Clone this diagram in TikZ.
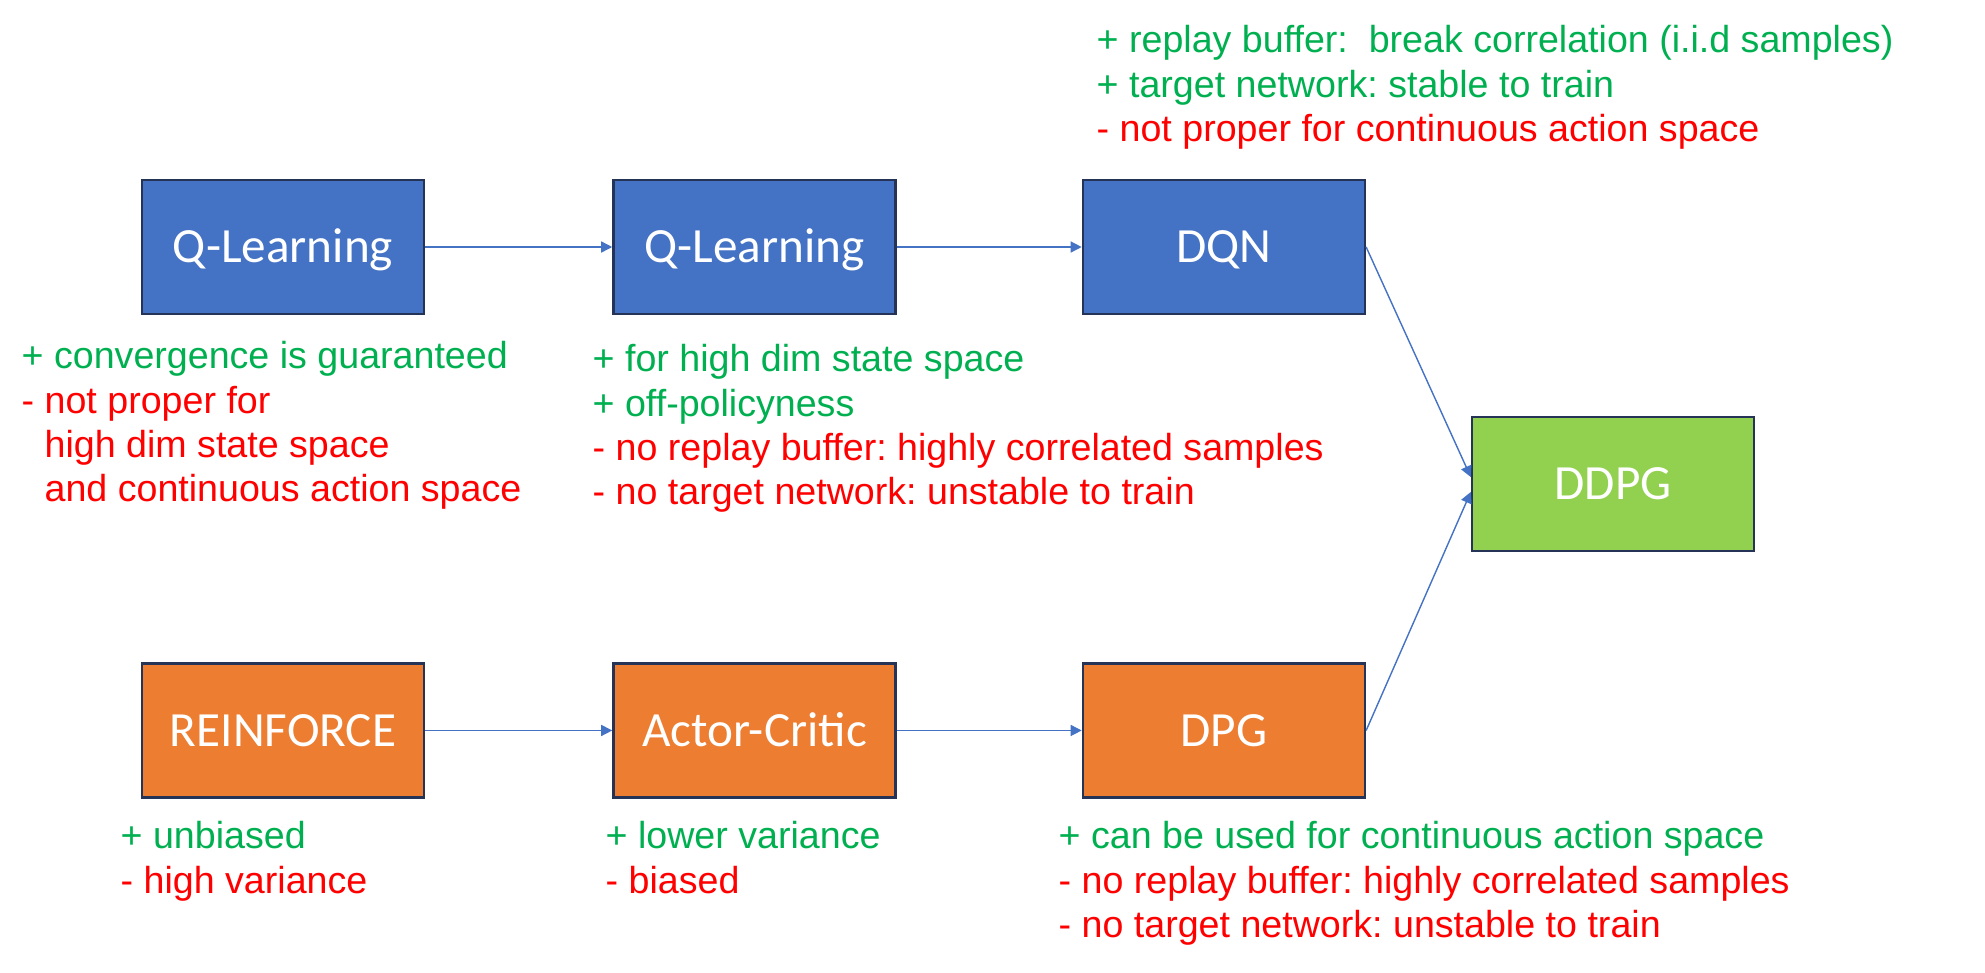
\documentclass[tikz,border=0pt]{standalone}
\usepackage{fontspec}
\setmainfont{Liberation Sans}
\newfontfamily\labelfont{Carlito}
\usetikzlibrary{arrows.meta, positioning}
\definecolor{rlblue}{HTML}{4472C4}
\definecolor{rlorange}{HTML}{ED7D31}
\definecolor{rlgreen}{HTML}{92D050}
\definecolor{rledge}{HTML}{243356}
\definecolor{pro}{HTML}{00B050}
\definecolor{con}{HTML}{FF0000}
\tikzset{
  algo/.style={rectangle, draw=rledge, line width=0.7pt, minimum width=2.82cm, minimum height=1.34cm,
    inner sep=0pt, text height=9pt, text depth=0pt, text=white, font=\labelfont\fontsize{14}{16}\selectfont},
  note/.style={anchor=north west, inner sep=0pt, align=left, font=\fontsize{10.7}{12.6}\selectfont},
  arr/.style={-{Triangle[length=1.1mm, width=1.1mm]}, line width=0.4pt, rlblue},
}
\frenchspacing

\begin{document}
\begin{tikzpicture}
    \useasboundingbox (0,0) rectangle (19.85,-9.72);

    % value-based row
    \node[algo, fill=rlblue] (ql) at (2.83,-2.47) {Q-Learning};
    \node[algo, fill=rlblue, right=1.87cm of ql] (dql) {Q-Learning};
    \node[algo, fill=rlblue, right=1.85cm of dql] (dqn) {DQN};

    % policy-gradient row
    \node[algo, fill=rlorange, below=3.47cm of ql] (rf) {REINFORCE};
    \node[algo, fill=rlorange, right=1.87cm of rf] (ac) {Actor-Critic};
    \node[algo, fill=rlorange, right=1.85cm of ac] (dpg) {DPG};

    \node[algo, fill=rlgreen] (ddpg) at (16.13,-4.84) {DDPG};

    % pros and cons
    \node[note] (qlnote) at (0.21,-3.41) {\textcolor{pro}{+ convergence is guaranteed}\\
      \textcolor{con}{- not proper for}\\
      \textcolor{con}{\hphantom{- }high dim state space}\\
      \textcolor{con}{\hphantom{- }and continuous action space}};
    \node[note] (dqlnote) at (5.92,-3.44) {\textcolor{pro}{+ for high dim state space}\\
      \textcolor{pro}{+ off-policyness}\\
      \textcolor{con}{- no replay buffer: highly correlated samples}\\
      \textcolor{con}{- no target network: unstable to train}};
    \node[note] (dqnnote) at (10.96,-0.25) {\textcolor{pro}{+ replay buffer:\ \ break correlation (i.i.d samples)}\\
      \textcolor{pro}{+ target network: stable to train}\\
      \textcolor{con}{- not proper for continuous action space}};
    \node[note] (rfnote) at (1.20,-8.21) {\textcolor{pro}{+ unbiased}\\
      \textcolor{con}{- high variance}};
    \node[note] (acnote) at (6.05,-8.21) {\textcolor{pro}{+ lower variance}\\
      \textcolor{con}{- biased}};
    \node[note] (dpgnote) at (10.58,-8.21) {\textcolor{pro}{+ can be used for continuous action space}\\
      \textcolor{con}{- no replay buffer: highly correlated samples}\\
      \textcolor{con}{- no target network: unstable to train}};

    \draw[arr] (ql) -- (dql);
    \draw[arr] (dql) -- (dqn);
    \draw[arr] (rf) -- (ac);
    \draw[arr] (ac) -- (dpg);
    \draw[arr] (dqn.east) -- ([yshift=0.07cm]ddpg.west);
    \draw[arr] (dpg.east) -- ([yshift=-0.08cm]ddpg.west);
\end{tikzpicture}
\end{document}
